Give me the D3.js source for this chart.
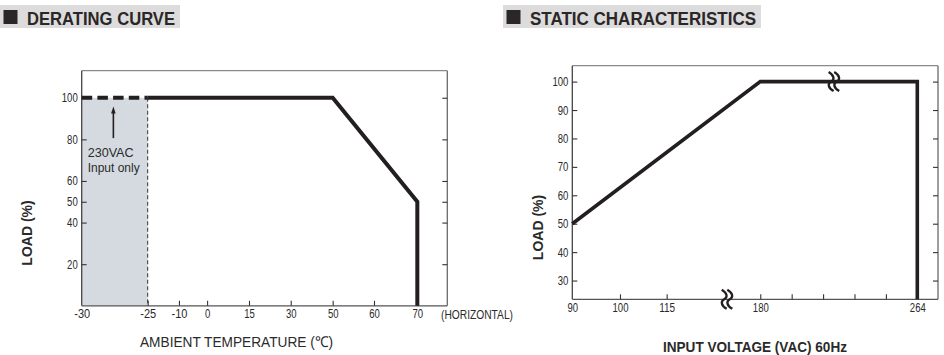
<!DOCTYPE html>
<html><head><meta charset="utf-8">
<script src="https://cdn.jsdelivr.net/npm/d3@7/dist/d3.min.js"></script>
<style>
html,body{margin:0;padding:0;background:#fff;}
svg{display:block;}
text{font-family:"Liberation Sans Narrow","Arial Narrow","Liberation Sans",Arial,sans-serif;fill:#2a2a2a;}
.bold{font-family:"Liberation Sans","Arial",sans-serif;font-weight:bold;}
</style></head>
<body><svg id="c" width="944" height="355"></svg>
<script>
// ---------- DATA ----------
const titles = ["DERATING CURVE", "STATIC CHARACTERISTICS"];
// Derating curve
const derTempTicks = [-30, -25, -10, 0, 15, 30, 50, 60, 70];
const derLoadTicks = [20, 40, 50, 60, 80, 100];
const derDashed = [[-30, 100], [-25, 100]];
const derSolid = [[-25, 100], [50, 100], [70, 50], [70, 0]];
const derShade = {x0: -30, x1: -25, y: 100};
const derNote = ["230VAC", "Input only"];
const derXLabel = "AMBIENT TEMPERATURE (℃)";
const derXNote = "(HORIZONTAL)";
// Static characteristics
const staVoltTicks = [90, 100, 115, 180, 196.8, 213.6, 230.4, 247.2, 264];
const staVoltLabels = [90, 100, 115, 180, 264];
const staLoadTicks = [30, 40, 50, 60, 70, 80, 90, 100];
const staLine = [[90, 50], [180, 100], [264, 100], [264, 23.4]];
const staBreaks = [[219.4, 100], [156.9, 23.4]];
const staXLabel = "INPUT VOLTAGE (VAC) 60Hz";
const yLabel = "LOAD (%)";

// ---------- DRAW ----------
const svg = d3.select("#c");
const ink = "#231f20";

function titleBox(x, w, txt, tw) {
  const g = svg.append("g");
  g.append("rect").attr("x", x).attr("y", 5).attr("width", w).attr("height", 23).attr("fill", "#dcdcdc");
  g.append("rect").attr("x", x + 3.5).attr("y", 10).attr("width", 14).attr("height", 14).attr("fill", "#2b2627");
  g.append("text").attr("class", "bold").attr("x", x + 27).attr("y", 24.5)
    .attr("textLength", tw).attr("lengthAdjust", "spacingAndGlyphs")
    .style("font-size", "19px").style("fill", "#2b2627").text(txt);
}
titleBox(0, 180, titles[0], 148);
titleBox(503, 258, titles[1], 226);

function frame(g, L, T, R, B) {
  g.append("line").attr("x1", L).attr("x2", R).attr("y1", T).attr("y2", T).attr("stroke", "#8a8a8a").attr("stroke-width", 1.3);
  g.append("line").attr("x1", R).attr("x2", R).attr("y1", T).attr("y2", B).attr("stroke", "#6a6a6a").attr("stroke-width", 1.3);
  g.append("line").attr("x1", L).attr("x2", L).attr("y1", T).attr("y2", B).attr("stroke", "#444").attr("stroke-width", 1.3);
  g.append("line").attr("x1", L).attr("x2", R).attr("y1", B).attr("y2", B).attr("stroke", "#555").attr("stroke-width", 1.3);
}
function styleAxis(a) {
  a.select(".domain").remove();
  a.selectAll(".tick line").attr("stroke", "#333").attr("stroke-width", 1.1);
  a.selectAll(".tick text").style("font-size", "12.5px").style("fill", "#2a2a2a")
    .each(function () {
      const t = d3.select(this), s = t.text();
      if (s.length) t.attr("textLength", s.length * 5.3).attr("lengthAdjust", "spacingAndGlyphs");
    });
}
const fmt = d => String(d);

// ===== Left chart =====
{
  const L = 81.7, R = 447.3, T = 70.7, B = 305.8, W = R - L;
  const x = d3.scaleLinear()
    .domain([-30, -25, -10, 0, 15, 30, 50, 60, 70, 77])
    .range([0, 0.1805, 0.266, 0.343, 0.4576, 0.5717, 0.6865, 0.7995, 0.918, 1].map(f => L + f * W));
  const y = d3.scaleLinear().domain([0, 113]).range([B, T]);
  const g = svg.append("g");

  g.append("rect").attr("x", x(derShade.x0)).attr("y", y(derShade.y))
    .attr("width", x(derShade.x1) - x(derShade.x0)).attr("height", y(0) - y(derShade.y))
    .attr("fill", "#d4dae0");
  g.append("line").attr("x1", x(derShade.x1)).attr("x2", x(derShade.x1))
    .attr("y1", y(derShade.y)).attr("y2", y(0))
    .attr("stroke", "#333").attr("stroke-width", 1).attr("stroke-dasharray", "4,2.5");

  frame(g, L, T, R, B);

  const ax = g.append("g").attr("transform", `translate(0,${B})`)
    .call(d3.axisBottom(x).tickValues(derTempTicks).tickSizeInner(-5).tickSizeOuter(0).tickPadding(3.5).tickFormat(fmt));
  styleAxis(ax);
  ax.selectAll(".tick").filter(d => d === -30).select("line").remove();
  const ay = g.append("g").attr("transform", `translate(${L},0)`)
    .call(d3.axisLeft(y).tickValues(derLoadTicks).tickSizeInner(-5).tickSizeOuter(0).tickPadding(4).tickFormat(fmt));
  styleAxis(ay);
  const ar = g.append("g").attr("transform", `translate(${R},0)`)
    .call(d3.axisRight(y).tickValues(derLoadTicks).tickSizeInner(-5).tickSizeOuter(0).tickFormat(""));
  styleAxis(ar);

  const line = d3.line().x(d => x(d[0])).y(d => y(d[1]));
  g.append("path").attr("d", line(derDashed)).attr("fill", "none").attr("stroke", ink)
    .attr("stroke-width", 4).attr("stroke-dasharray", "10.5,5.2");
  g.append("path").attr("d", line(derSolid)).attr("fill", "none").attr("stroke", ink)
    .attr("stroke-width", 4).attr("stroke-linejoin", "miter");

  // arrow annotation
  const axv = -27.6;
  g.append("line").attr("x1", x(axv)).attr("x2", x(axv)).attr("y1", y(80.6)).attr("y2", y(93))
    .attr("stroke", ink).attr("stroke-width", 1.6);
  g.append("path").attr("d", `M${x(axv)},${y(95.8)} l-2.3,7 l4.6,0 Z`).attr("fill", ink);
  g.append("text").attr("x", x(-29.55)).attr("y", y(73.8)).attr("dy", "0.35em")
    .attr("textLength", 46).attr("lengthAdjust", "spacingAndGlyphs")
    .style("font-size", "13.5px").text(derNote[0]);
  g.append("text").attr("x", x(-29.55)).attr("y", y(66.6)).attr("dy", "0.35em")
    .attr("textLength", 52).attr("lengthAdjust", "spacingAndGlyphs")
    .style("font-size", "13.5px").text(derNote[1]);

  g.append("text").attr("x", 441).attr("y", B + 13.5)
    .attr("textLength", 72).attr("lengthAdjust", "spacingAndGlyphs")
    .style("font-size", "12.5px").text(derXNote);
  g.append("text").attr("x", 140).attr("y", 347)
    .attr("textLength", 193).attr("lengthAdjust", "spacingAndGlyphs")
    .style("font-size", "15px").text(derXLabel);
  g.append("text").attr("class", "bold").attr("transform", `translate(32,233) rotate(-90)`)
    .attr("text-anchor", "middle").style("font-size", "14px").text(yLabel);
}

// ===== Right chart =====
{
  const L = 572.3, R = 938, T = 65.7, B = 299.3, W = R - L;
  const x = d3.scaleLinear()
    .domain([90, 100, 115, 180, 264, 276])
    .range([0, 0.1304, 0.258, 0.514, 0.9434, 1].map(f => L + f * W));
  const y = d3.scaleLinear().domain([23.4, 105.6]).range([B, T]);
  const g = svg.append("g");

  frame(g, L, T, R, B);

  const ax = g.append("g").attr("transform", `translate(0,${B})`)
    .call(d3.axisBottom(x).tickValues(staVoltTicks).tickSizeInner(-5).tickSizeOuter(0).tickPadding(3.5)
      .tickFormat(d => staVoltLabels.includes(d) ? String(d) : ""));
  styleAxis(ax);
  ax.selectAll(".tick").filter(d => d === 90).select("line").remove();
  const ay = g.append("g").attr("transform", `translate(${L},0)`)
    .call(d3.axisLeft(y).tickValues(staLoadTicks).tickSizeInner(-5).tickSizeOuter(0).tickPadding(4).tickFormat(fmt));
  styleAxis(ay);
  const ar = g.append("g").attr("transform", `translate(${R},0)`)
    .call(d3.axisRight(y).tickValues(staLoadTicks).tickSizeInner(-5).tickSizeOuter(0).tickFormat(""));
  styleAxis(ar);

  const line = d3.line().x(d => x(d[0])).y(d => y(d[1]));
  g.append("path").attr("d", line(staLine)).attr("fill", "none").attr("stroke", ink)
    .attr("stroke-width", 3.6).attr("stroke-linejoin", "miter");

  // axis break marks
  staBreaks.forEach(([bx, by]) => {
    const cx = x(bx), cy = y(by);
    [-2.8, 2.8].forEach(off => {
      const px = cx + off;
      g.append("path")
        .attr("d", `M${px - 2.5},${cy - 9.5} C${px + 3.5},${cy - 6} ${px + 3.5},${cy - 2} ${px},${cy} C${px - 3.5},${cy + 2} ${px - 3.5},${cy + 6} ${px + 2.5},${cy + 9.5}`)
        .attr("fill", "none").attr("stroke", ink).attr("stroke-width", 2.3);
    });
  });

  g.append("text").attr("class", "bold").attr("x", 663).attr("y", 352)
    .attr("textLength", 184).attr("lengthAdjust", "spacingAndGlyphs")
    .style("font-size", "14.5px").text(staXLabel);
  g.append("text").attr("class", "bold").attr("transform", `translate(543,227.5) rotate(-90)`)
    .attr("text-anchor", "middle").style("font-size", "14px").text(yLabel);
}
</script></body></html>
